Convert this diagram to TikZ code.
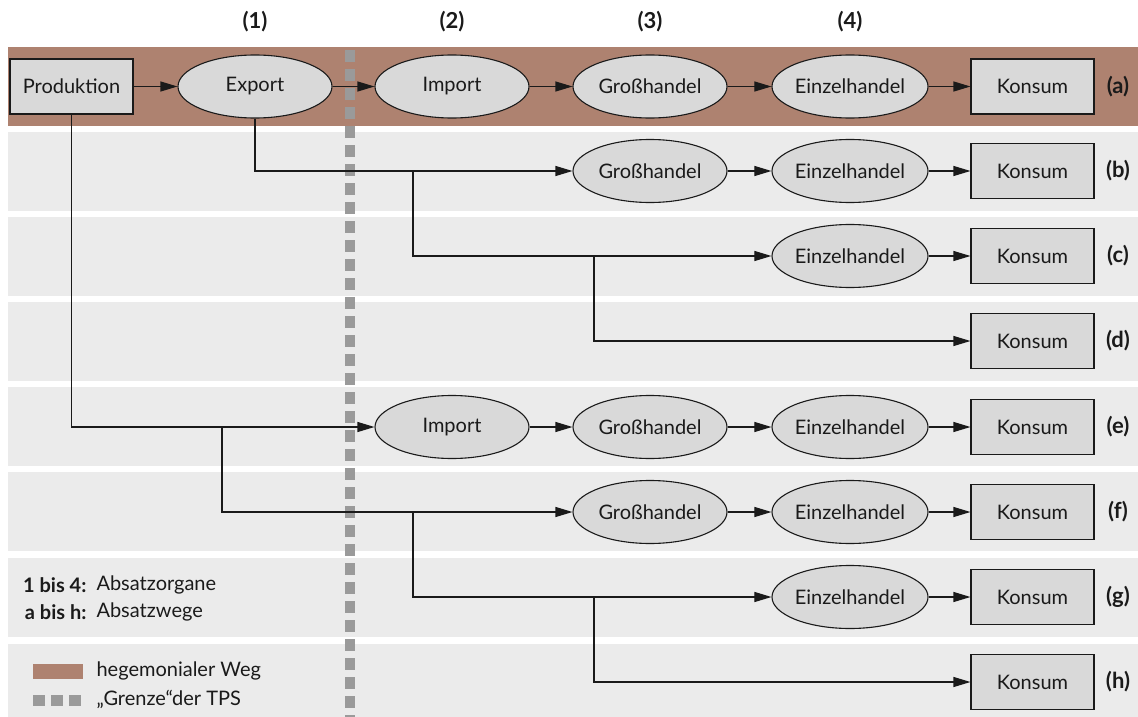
\documentclass[tikz,border=0pt]{standalone}
\usepackage{fontspec}
\setmainfont{Lato}
\usetikzlibrary{shapes.geometric,arrows.meta}
\definecolor{hegemon}{HTML}{AE8270}
\definecolor{band}{HTML}{EBEBEB}
\definecolor{nodefill}{HTML}{D9D9D9}
\definecolor{border}{HTML}{9A9A9A}
\definecolor{ink}{HTML}{1A1A1A}

\begin{document}
\begin{tikzpicture}[x=1pt,y=-1pt,
  every node/.style={font=\fontsize{20}{24}\selectfont, text=ink},
  organ/.style={ellipse, draw=ink, fill=nodefill, line width=1.1pt,
    minimum width=154pt, minimum height=63pt, inner sep=0pt},
  endbox/.style={rectangle, draw=ink, fill=nodefill, line width=1.1pt,
    minimum width=123pt, minimum height=55pt, inner sep=0pt},
  flow/.style={draw=ink, line width=1.1pt, -{Triangle[length=17pt,width=10pt]}},
  tag/.style={font=\fontsize{22}{26}\selectfont\bfseries},
  colhead/.style={font=\fontsize{22}{26}\selectfont\bfseries},
  keyterm/.style={anchor=east, font=\fontsize{20}{24}\selectfont\bfseries},
  lane/.style={fill=band, draw=none},
]
\useasboundingbox (0,0) rectangle (1138,717);

% lanes
\fill[hegemon] (8,47) rectangle (1138,126);
\foreach \t/\b in {132/211, 217/296, 302/381, 387/466, 472/551, 558/637, 644/717}
  \path[lane] (8,\t) rectangle (1138,\b);

% border of the TPS
\draw[border, line width=10pt, dash pattern=on 12pt off 7pt] (349.5,50) -- (349.5,717);

% column heads
\node[colhead] (h1) at (255,22) {(1)};
\node[colhead] (h2) at (452,22) {(2)};
\node[colhead] (h3) at (650,22) {(3)};
\node[colhead] (h4) at (850,22) {(4)};

% row (a)
\node[endbox] (pa) at (71.5,86.5) {Produktion};
\node[organ] (xa) at (255,86.5) {Export};
\node[organ] (ia) at (452,86.5) {Import};
\node[organ] (ga) at (650,86.5) {Großhandel};
\node[organ] (ea) at (850,86.5) {Einzelhandel};
\node[endbox] (ka) at (1032.5,86.5) {Konsum};
\node[tag] (ta) at (1118,86.5) {(a)};
\draw[flow] (pa) -- (xa);
\draw[flow] (xa) -- (ia);
\draw[flow] (ia) -- (ga);
\draw[flow] (ga) -- (ea);
\draw[flow] (ea) -- (ka);

% row (b)
\node[organ] (gb) at (650,171) {Großhandel};
\node[organ] (eb) at (850,171) {Einzelhandel};
\node[endbox] (kb) at (1032.5,171) {Konsum};
\node[tag] (tb) at (1118,171) {(b)};
\draw[flow] (xa.south) |- (gb.west);
\draw[flow] (gb) -- (eb);
\draw[flow] (eb) -- (kb);

% row (c)
\coordinate (jb) at (413,171);
\node[organ] (ec) at (850,256) {Einzelhandel};
\node[endbox] (kc) at (1032.5,256) {Konsum};
\node[tag] (tc) at (1118,256) {(c)};
\draw[flow] (jb) |- (ec.west);
\draw[flow] (ec) -- (kc);

% row (d)
\coordinate (jc) at (594,256);
\node[endbox] (kd) at (1032.5,341) {Konsum};
\node[tag] (td) at (1118,341) {(d)};
\draw[flow] (jc) |- (kd.west);

% row (e)
\node[organ] (ie) at (452,427) {Import};
\node[organ] (ge) at (650,427) {Großhandel};
\node[organ] (ee) at (850,427) {Einzelhandel};
\node[endbox] (ke) at (1032.5,427) {Konsum};
\node[tag] (te) at (1118,427) {(e)};
\draw[flow] (pa.south) |- (ie.west);
\draw[flow] (ie) -- (ge);
\draw[flow] (ge) -- (ee);
\draw[flow] (ee) -- (ke);

% row (f)
\coordinate (je) at (222,427);
\node[organ] (gf) at (650,512) {Großhandel};
\node[organ] (ef) at (850,512) {Einzelhandel};
\node[endbox] (kf) at (1032.5,512) {Konsum};
\node[tag] (tf) at (1118,512) {(f)};
\draw[flow] (je) |- (gf.west);
\draw[flow] (gf) -- (ef);
\draw[flow] (ef) -- (kf);

% row (g)
\coordinate (jf) at (413,512);
\node[organ] (eg) at (850,597) {Einzelhandel};
\node[endbox] (kg) at (1032.5,597) {Konsum};
\node[tag] (tg) at (1118,597) {(g)};
\draw[flow] (jf) |- (eg.west);
\draw[flow] (eg) -- (kg);

% row (h)
\coordinate (jg) at (594,597);
\node[endbox] (kh) at (1032.5,682) {Konsum};
\node[tag] (th) at (1118,682) {(h)};
\draw[flow] (jg) |- (kh.west);

% key
\node[keyterm] (k1) at (90,585) {1 bis 4:};
\node[anchor=west] (k1t) at (93,585) {Absatzorgane};
\node[keyterm] (k2) at (90,612) {a bis h:};
\node[anchor=west] (k2t) at (93,612) {Absatzwege};

\fill[hegemon] (33,664) rectangle (83,679);
\node[anchor=west] (l1) at (93,671) {hegemonialer Weg};
\foreach \x in {33,51,69}
  \fill[border] (\x,695) rectangle ++(12,11);
\node[anchor=west] (l2) at (93,699) {„Grenze“der TPS};
\end{tikzpicture}
\end{document}
